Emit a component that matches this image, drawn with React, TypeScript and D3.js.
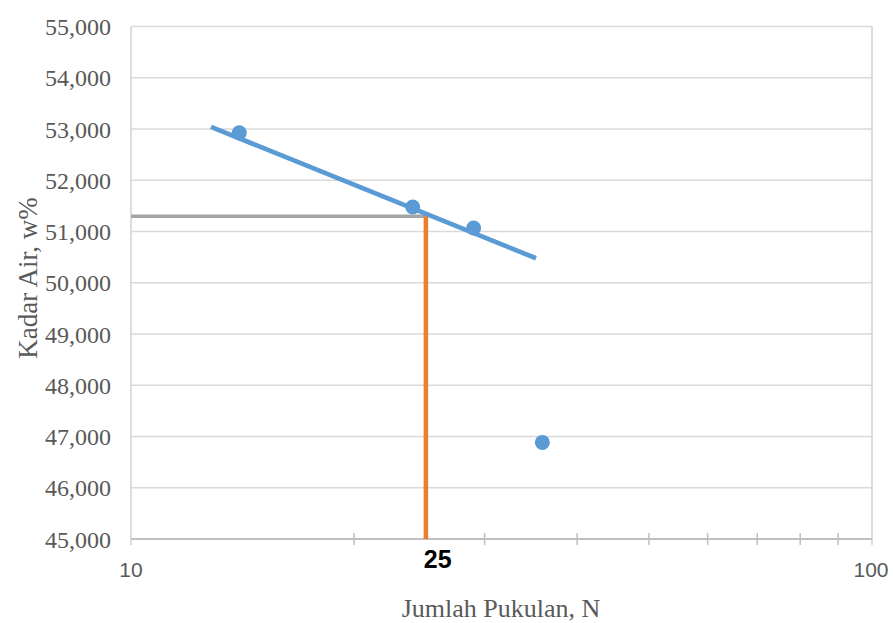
import React from "react";
import * as d3 from "d3";

const pointsN = [14.0, 24.0, 29.0, 35.9];
const pointsW = [52928, 51478, 51068, 46885];
const trendN = [12.82, 35.2];
const trendW = [53041, 50478];
const targetN = 25;
const targetW = 51300;
const yTicks = [45000, 46000, 47000, 48000, 49000, 50000, 51000, 52000, 53000, 54000, 55000];
const xMajor = [10, 100];
const xMinor = [20, 30, 40, 50, 60, 70, 80, 90];

const W = 893, H = 623;
const L = 131, R = 872, T = 26.5, B = 539;

export default function App() {
  const x = d3.scaleLog().domain([10, 100]).range([L, R]);
  const y = d3.scaleLinear().domain([45000, 55000]).range([B, T]);
  const fmt = d3.format(",");
  const line = d3.line<[number, number]>().x(d => x(d[0])).y(d => y(d[1]));
  const trend: [number, number][] = trendN.map((n, i) => [n, trendW[i]]);
  const serif = "'Liberation Serif', 'Times New Roman', serif";
  const sans = "'Liberation Sans', Arial, sans-serif";
  return (
    <svg width={W} height={H} style={{ position: "absolute", left: 0, top: 0, background: "#fff" }}>
      <rect x={0} y={0} width={W} height={H} fill="#fff" />
      {yTicks.map(t => (
        <line key={"g" + t} x1={L} x2={R} y1={y(t)} y2={y(t)} stroke="#d9d9d9" strokeWidth={1.5} />
      ))}
      {xMajor.map(t => (
        <line key={"v" + t} x1={x(t)} x2={x(t)} y1={T} y2={B + 6} stroke="#d0d0d0" strokeWidth={1.5} />
      ))}
      <line x1={L} x2={R} y1={B} y2={B} stroke="#bfbfbf" strokeWidth={2} />
      {xMinor.map(t => (
        <line key={"m" + t} x1={x(t)} x2={x(t)} y1={B - 6} y2={B + 6} stroke="#bfbfbf" strokeWidth={1.5} />
      ))}
      {yTicks.map(t => (
        <text key={"yl" + t} x={111} y={y(t) + 8.5} textAnchor="end" fontFamily={serif} fontSize={24} fill="#595959">
          {fmt(t)}
        </text>
      ))}
      {xMajor.map(t => (
        <text key={"xl" + t} x={x(t) + (t === 100 ? -1 : 0)} y={577} textAnchor="middle" fontFamily={sans} fontSize={21} fill="#595959">
          {t}
        </text>
      ))}
      <line x1={L} x2={x(targetN)} y1={y(targetW)} y2={y(targetW)} stroke="#a5a5a5" strokeWidth={3.5} />
      <line x1={x(targetN)} x2={x(targetN)} y1={y(targetW)} y2={B} stroke="#ed7d31" strokeWidth={4.5} />
      <path d={line(trend) || ""} fill="none" stroke="#5b9bd5" strokeWidth={4.7} />
      {pointsN.map((n, i) => (
        <circle key={"p" + i} cx={x(n)} cy={y(pointsW[i])} r={7.5} fill="#5b9bd5" />
      ))}
      <text x={x(targetN) - 2} y={568} fontFamily={sans} fontWeight="bold" fontSize={25} fill="#000">
        {targetN}
      </text>
      <text x={501} y={617} textAnchor="middle" fontFamily={serif} fontSize={26} fill="#595959">
        Jumlah Pukulan, N
      </text>
      <text transform={`translate(37,${278}) rotate(-90)`} textAnchor="middle" fontFamily={serif} fontSize={27} fill="#595959">
        Kadar Air, w%
      </text>
    </svg>
  );
}
